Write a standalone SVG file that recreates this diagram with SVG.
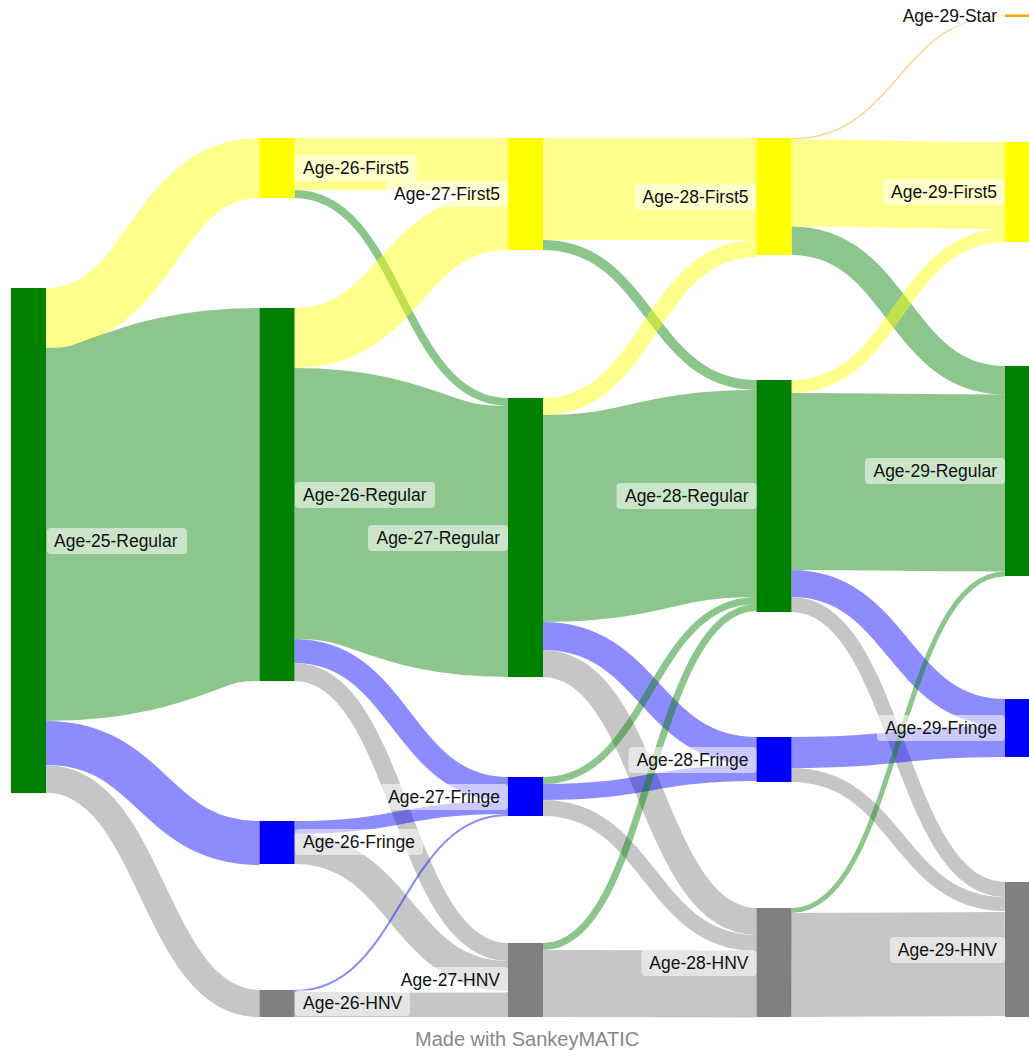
<svg xmlns="http://www.w3.org/2000/svg" width="1029" height="1050" viewBox="0 0 1029 1050">
<style>
.lk{fill:none;stroke-opacity:0.45}
.y{stroke:#ffff00}.g{stroke:#008000}.b{stroke:#0000ff}.h{stroke:#808080}.o{stroke:#ffa500}
.nR{fill:#008000}.nF{fill:#ffff00}.nB{fill:#0000ff}.nH{fill:#808080}.nS{fill:#ffa500}
.bg{fill:#ffffff;fill-opacity:0.55}
.lb{font-family:"Liberation Sans",Arial,sans-serif;font-size:17.5px;fill:#111}
.e{text-anchor:end}
.foot{font-family:"Liberation Sans",Arial,sans-serif;font-size:20px;fill:#888888}
</style>
<rect width="1029" height="1050" fill="#ffffff"/>
<g id="links">
<path class="lk y" stroke-width="60" d="M46 318 C152.75 318 152.75 168 259.5 168"/>
<path class="lk g" stroke-width="373" d="M46 534.5 C152.75 534.5 152.75 494.5 259.5 494.5"/>
<path class="lk b" stroke-width="44" d="M46 743 C152.75 743 152.75 843 259.5 843"/>
<path class="lk h" stroke-width="27.5" d="M46 779 C152.75 779 152.75 1003.5 259.5 1003.5"/>

<path class="lk y" stroke-width="52" d="M294.5 164 C401.25 164 401.25 164 508 164"/>
<path class="lk g" stroke-width="8" d="M294.5 194 C401.25 194 401.25 402 508 402"/>
<path class="lk y" stroke-width="60" d="M294.5 338 C401.25 338 401.25 220 508 220"/>
<path class="lk g" stroke-width="271" d="M294.5 503.5 C401.25 503.5 401.25 541.5 508 541.5"/>
<path class="lk b" stroke-width="24" d="M294.5 651 C401.25 651 401.25 789 508 789"/>
<path class="lk h" stroke-width="18" d="M294.5 672 C401.25 672 401.25 952 508 952"/>
<path class="lk b" stroke-width="13" d="M294.5 827.5 C401.25 827.5 401.25 807.5 508 807.5"/>
<path class="lk h" stroke-width="30" d="M294.5 849 C401.25 849 401.25 976 508 976"/>
<path class="lk b" stroke-width="2" d="M294.5 991 C401.25 991 401.25 815 508 815"/>
<path class="lk h" stroke-width="25" d="M294.5 1004.5 C401.25 1004.5 401.25 1004.5 508 1004.5"/>

<path class="lk y" stroke-width="102" d="M543 189 C649.75 189 649.75 189 756.5 189"/>
<path class="lk g" stroke-width="10" d="M543 245 C649.75 245 649.75 385 756.5 385"/>
<path class="lk y" stroke-width="17" d="M543 406.5 C649.75 406.5 649.75 248.5 756.5 248.5"/>
<path class="lk g" stroke-width="207" d="M543 518.5 C649.75 518.5 649.75 493.5 756.5 493.5"/>
<path class="lk b" stroke-width="28" d="M543 636 C649.75 636 649.75 751 756.5 751"/>
<path class="lk h" stroke-width="27" d="M543 663.5 C649.75 663.5 649.75 921.5 756.5 921.5"/>
<path class="lk g" stroke-width="7" d="M543 780.5 C649.75 780.5 649.75 600.5 756.5 600.5"/>
<path class="lk b" stroke-width="16" d="M543 792 C649.75 792 649.75 773 756.5 773"/>
<path class="lk h" stroke-width="16" d="M543 808 C649.75 808 649.75 943 756.5 943"/>
<path class="lk g" stroke-width="7" d="M543 946.5 C649.75 946.5 649.75 607.5 756.5 607.5"/>
<path class="lk h" stroke-width="67" d="M543 983.5 C649.75 983.5 649.75 984 756.5 984"/>

<path class="lk o" stroke-width="1.5" d="M791.5 138.75 C898.25 138.75 898.25 15.75 1005 15.75"/>
<path class="lk y" stroke-width="87" d="M791.5 183 C898.25 183 898.25 185.5 1005 185.5"/>
<path class="lk g" stroke-width="28.5" d="M791.5 240.75 C898.25 240.75 898.25 380.25 1005 380.25"/>
<path class="lk y" stroke-width="13" d="M791.5 386.5 C898.25 386.5 898.25 235.5 1005 235.5"/>
<path class="lk g" stroke-width="177" d="M791.5 481.5 C898.25 481.5 898.25 483 1005 483"/>
<path class="lk b" stroke-width="27" d="M791.5 583.5 C898.25 583.5 898.25 712.5 1005 712.5"/>
<path class="lk h" stroke-width="15" d="M791.5 604.5 C898.25 604.5 898.25 889.5 1005 889.5"/>
<path class="lk b" stroke-width="31" d="M791.5 752.5 C898.25 752.5 898.25 741.5 1005 741.5"/>
<path class="lk h" stroke-width="14" d="M791.5 775 C898.25 775 898.25 904 1005 904"/>
<path class="lk g" stroke-width="5" d="M791.5 910.5 C898.25 910.5 898.25 574 1005 574"/>
<path class="lk h" stroke-width="104" d="M791.5 965 C898.25 965 898.25 964 1005 964"/>
</g>

<g id="node-age-25-regular"><rect class="nR" x="11" y="288" width="35" height="505"/><rect class="bg" x="47" y="528" width="140" height="26" rx="4"/><text class="lb" x="54" y="541" dy="0.35em">Age-25-Regular</text></g>

<g id="node-age-26-first5"><rect class="nF" x="259.5" y="138" width="35" height="60"/><rect class="bg" x="295" y="155" width="122" height="26" rx="4"/><text class="lb" x="303" y="168" dy="0.35em">Age-26-First5</text></g>
<g id="node-age-26-regular"><rect class="nR" x="259.5" y="308" width="35" height="373"/><rect class="bg" x="295" y="482" width="140" height="26" rx="4"/><text class="lb" x="303" y="495" dy="0.35em">Age-26-Regular</text></g>
<g id="node-age-26-fringe"><rect class="nB" x="259.5" y="821" width="35" height="43"/><rect class="bg" x="295" y="829" width="128" height="26" rx="4"/><text class="lb" x="303" y="842" dy="0.35em">Age-26-Fringe</text></g>
<g id="node-age-26-hnv"><rect class="nH" x="259.5" y="990" width="35" height="27"/><rect class="bg" x="295" y="990" width="115" height="26" rx="4"/><text class="lb" x="303" y="1003" dy="0.35em">Age-26-HNV</text></g>

<g id="node-age-27-first5"><rect class="nF" x="508" y="138" width="35" height="112"/><rect class="bg" x="386" y="181" width="122" height="26" rx="4"/><text class="lb e" x="500" y="194" dy="0.35em">Age-27-First5</text></g>
<g id="node-age-27-regular"><rect class="nR" x="508" y="398" width="35" height="279"/><rect class="bg" x="368" y="525" width="140" height="26" rx="4"/><text class="lb e" x="500" y="538" dy="0.35em">Age-27-Regular</text></g>
<g id="node-age-27-fringe"><rect class="nB" x="508" y="777" width="35" height="39"/><rect class="bg" x="380" y="784" width="128" height="26" rx="4"/><text class="lb e" x="500" y="797" dy="0.35em">Age-27-Fringe</text></g>
<g id="node-age-27-hnv"><rect class="nH" x="508" y="943" width="35" height="74"/><rect class="bg" x="393" y="967" width="115" height="26" rx="4"/><text class="lb e" x="500" y="980" dy="0.35em">Age-27-HNV</text></g>

<g id="node-age-28-first5"><rect class="nF" x="756.5" y="138" width="35" height="117"/><rect class="bg" x="634.5" y="184" width="122" height="26" rx="4"/><text class="lb e" x="748.5" y="197" dy="0.35em">Age-28-First5</text></g>
<g id="node-age-28-regular"><rect class="nR" x="756.5" y="380" width="35" height="232"/><rect class="bg" x="616.5" y="483" width="140" height="26" rx="4"/><text class="lb e" x="748.5" y="496" dy="0.35em">Age-28-Regular</text></g>
<g id="node-age-28-fringe"><rect class="nB" x="756.5" y="737" width="35" height="45"/><rect class="bg" x="628.5" y="747" width="128" height="26" rx="4"/><text class="lb e" x="748.5" y="760" dy="0.35em">Age-28-Fringe</text></g>
<g id="node-age-28-hnv"><rect class="nH" x="756.5" y="908" width="35" height="109"/><rect class="bg" x="641.5" y="950" width="115" height="26" rx="4"/><text class="lb e" x="748.5" y="963" dy="0.35em">Age-28-HNV</text></g>

<g id="node-age-29-star"><rect class="nS" x="1005" y="14.5" width="35" height="2.5"/><rect class="bg" x="895" y="3" width="110" height="26" rx="4"/><text class="lb e" x="997" y="16" dy="0.35em">Age-29-Star</text></g>
<g id="node-age-29-first5"><rect class="nF" x="1005" y="142" width="35" height="100"/><rect class="bg" x="883" y="179" width="122" height="26" rx="4"/><text class="lb e" x="997" y="192" dy="0.35em">Age-29-First5</text></g>
<g id="node-age-29-regular"><rect class="nR" x="1005" y="366" width="35" height="210"/><rect class="bg" x="865" y="458" width="140" height="26" rx="4"/><text class="lb e" x="997" y="471" dy="0.35em">Age-29-Regular</text></g>
<g id="node-age-29-fringe"><rect class="nB" x="1005" y="699" width="35" height="58"/><rect class="bg" x="877" y="715" width="128" height="26" rx="4"/><text class="lb e" x="997" y="728" dy="0.35em">Age-29-Fringe</text></g>
<g id="node-age-29-hnv"><rect class="nH" x="1005" y="882" width="35" height="135"/><rect class="bg" x="890" y="937" width="115" height="26" rx="4"/><text class="lb e" x="997" y="950" dy="0.35em">Age-29-HNV</text></g>

<text class="foot" x="415" y="1046">Made with SankeyMATIC</text>
</svg>
